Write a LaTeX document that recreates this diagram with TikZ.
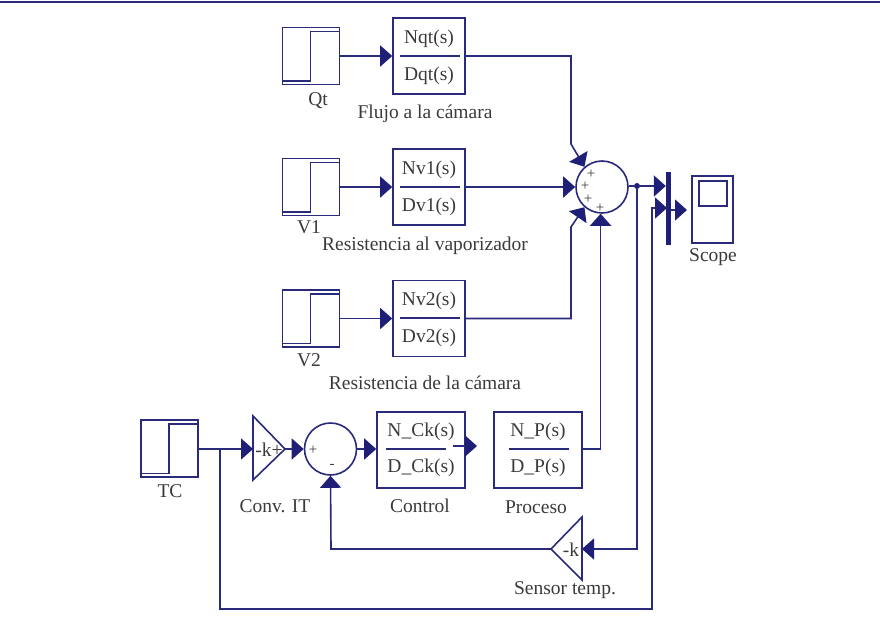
\documentclass[tikz,border=0pt]{standalone}
\usepackage{fontspec}
\setmainfont{Liberation Serif}
\usetikzlibrary{arrows.meta}

\definecolor{wire}{RGB}{42,42,125}
\definecolor{headfill}{RGB}{31,31,120}
\definecolor{inkgray}{RGB}{58,58,58}

\tikzset{
    wireline/.style = {draw=wire, line width=1.6pt},
    flow/.style = {wireline, -{Triangle[length=12pt,width=21pt,color=headfill]}},
    stepbox/.style = {wireline, minimum width=57pt, minimum height=57pt, inner sep=0pt,
        path picture={\draw[wireline] ([yshift=3.5pt]path picture bounding box.south west)
            -- ++(28pt,0) -- ++(0,49.5pt) -- ([yshift=-4pt]path picture bounding box.north east);}},
    tfbox/.style = {wireline, minimum width=72pt, minimum height=76pt, inner sep=0pt},
    sumnode/.style = {wireline, circle, minimum size=52pt, inner sep=0pt},
    label/.style = {text=inkgray, font=\fontsize{19.5}{22}\selectfont, inner sep=0pt},
    signtext/.style = {text=inkgray, font=\fontsize{15}{17}\selectfont, inner sep=0pt}
}

\begin{document}
\begin{tikzpicture}[x=1pt,y=-1pt]
                \useasboundingbox (0,0) rectangle (880,624);
                \coordinate (ruleL) at (0,2);
                \coordinate (ruleR) at (880,2);
                \draw [wire,line width=2pt] (ruleL) -- (ruleR);

                % upper row of sources
                \node (stepQt) at (311,56) [stepbox] {};
                \node (stepVa) at (311,187) [stepbox] {};
                \node (stepVb) at (311,318.5) [stepbox] {};
                \node (stepTC) at (169.5,448.5) [stepbox] {};
                \node (tfQt) at (429,56) [tfbox] {};
                \node (tfVa) at (429,187) [tfbox] {};
                \node (tfVb) at (429,318.5) [tfbox] {};
                \node (tfCk) at (421,450) [tfbox,minimum width=88pt] {};
                \node (tfP) at (538,450) [tfbox,minimum width=88pt] {};

                % fraction bars
                \coordinate (barQtL) at (400,56);  \coordinate (barQtR) at (460,56);
                \coordinate (barVaL) at (400,187); \coordinate (barVaR) at (460,187);
                \coordinate (barVbL) at (400,318); \coordinate (barVbR) at (460,318);
                \coordinate (barCkL) at (386,449); \coordinate (barCkR) at (446,449);
                \coordinate (barPL) at (509,449);  \coordinate (barPR) at (569,449);
                \draw [wireline] (barQtL) -- (barQtR);
                \draw [wireline] (barVaL) -- (barVaR);
                \draw [wireline] (barVbL) -- (barVbR);
                \draw [wireline] (barCkL) -- (barCkR);
                \draw [wireline] (barPL) -- (barPR);

                \node (numQt) at (429,39) [label] {Nqt(s)};
                \node (denQt) at (429,76) [label] {Dqt(s)};
                \node (numVa) at (429,170) [label] {Nv1(s)};
                \node (denVa) at (429,207) [label] {Dv1(s)};
                \node (numVb) at (429,301) [label] {Nv2(s)};
                \node (denVb) at (429,338) [label] {Dv2(s)};
                \node (numCk) at (421,432) [label] {N\_Ck(s)};
                \node (denCk) at (421,468) [label] {D\_Ck(s)};
                \node (numP) at (538,432) [label] {N\_P(s)};
                \node (denP) at (538,468) [label] {D\_P(s)};

                % summing points and gains
                \node (sumMain) at (602,187) [sumnode] {};
                \node (sumCtl) at (330.5,449) [sumnode] {};
                \coordinate (gainIn) at (253,449);
                \coordinate (gainUp) at (253,416);
                \coordinate (gainDn) at (253,480);
                \coordinate (gainOut) at (285,449);
                \draw [wireline] (gainUp) -- (gainOut) -- (gainDn) -- cycle;
                \coordinate (sensIn) at (582,549);
                \coordinate (sensUp) at (582,517);
                \coordinate (sensDn) at (582,580);
                \coordinate (sensOut) at (551,549);
                \draw [wireline] (sensUp) -- (sensOut) -- (sensDn) -- cycle;

                \node (mux) at (668.5,208.5) [fill=headfill,minimum width=5pt,minimum height=73pt,inner sep=0pt] {};
                \node (scope) at (712.5,209.5) [wireline,minimum width=41pt,minimum height=67pt,inner sep=0pt] {};
                \node (scopeScreen) at (713,193.5) [wireline,minimum width=28pt,minimum height=25pt,inner sep=0pt] {};
                \node (dotOut) at (637,186) [circle,fill=headfill,minimum size=6pt,inner sep=0pt] {};

                % connectors
                \draw [flow] (stepQt.east) -- (tfQt.west);
                \draw [flow] (stepVa.east) -- (tfVa.west);
                \draw [flow] (stepVb.east) -- (tfVb.west);
                \coordinate (kneeQt) at (571,144);
                \coordinate (kneeVb) at (571,227);
                \draw [flow] (tfQt.east) -| (kneeQt) -- (sumMain.131);
                \draw [flow] (tfVa.east) -- (sumMain.west);
                \draw [flow] (tfVb.east) -| (kneeVb) -- (sumMain.229);
                \draw [flow] (tfP.east |- barPL) -| (sumMain.267);

                \draw [wireline] (sumMain.east |- dotOut) -- (dotOut);
                \draw [flow] (dotOut) -- (mux.west |- dotOut);
                \coordinate (muxInB) at (667,208);
                \coordinate (scopeIn) at (687,210);
                \draw [flow] (mux.east |- scopeIn) -- (scopeIn);

                \draw [flow] (stepTC.east |- gainIn) -- (gainIn);
                \draw [flow] (gainOut) -- (sumCtl.west);
                \draw [flow] (sumCtl.east) -- (tfCk.west |- sumCtl.east);
                \coordinate (ctlOutA) at (453,446);
                \coordinate (ctlOutB) at (477,446);
                \draw [flow] (ctlOutA) -- (ctlOutB);

                \draw [flow] (dotOut) |- (sensIn);
                \coordinate (backTurn) at (331,549);
                \draw [flow] (sensOut) -- (backTurn) -- (sumCtl.south);

                \coordinate (teeTC) at (220,449);
                \coordinate (loopA) at (220,609);
                \coordinate (loopB) at (652,609);
                \coordinate (loopC) at (652,208);
                \draw [flow] (teeTC) -- (loopA) -- (loopB) -- (loopC) -- (muxInB);

                % signs
                \node (plusA) at (591,174) [signtext] {+};
                \node (plusB) at (585,186) [signtext] {+};
                \node (plusC) at (588,199.5) [signtext] {+};
                \node (plusD) at (600,208) [signtext] {+};
                \node (plusCtl) at (313,450) [signtext] {+};
                \node (minusCtl) at (332,466) [signtext] {-};
                \node (gainText) at (269,450) [label] {-k+};
                \node (sensText) at (571,550) [label] {-k};

                % labels
                \node (lblQt) at (318,101) [label] {Qt};
                \node (lblFlujo) at (425,114) [label] {Flujo a la cámara};
                \node (lblVa) at (309,227) [label] {V1};
                \node (lblResVap) at (425,246) [label] {Resistencia al vaporizador};
                \node (lblVb) at (309,360) [label] {V2};
                \node (lblResCam) at (425,383) [label] {Resistencia de la cámara};
                \node (lblTC) at (170,491) [label] {TC};
                \node (lblConv) at (275,506) [label] {Conv. IT};
                \node (lblCtl) at (420,506) [label] {Control};
                \node (lblProc) at (536,507) [label] {Proceso};
                \node (lblSens) at (565,590) [label] {Sensor temp.};
                \node (lblScope) at (713,257) [label] {Scope};
            \end{tikzpicture}
\end{document}
